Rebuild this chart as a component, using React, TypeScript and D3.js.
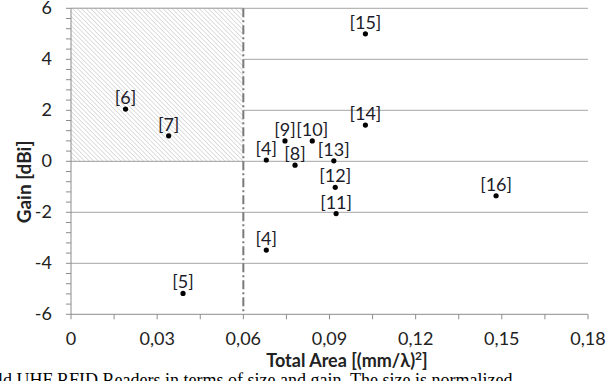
import React from 'react';
import { scaleLinear, range } from 'd3';

const refs = ['[6]', '[7]', '[4]', '[9]', '[10]', '[8]', '[13]', '[12]', '[11]', '[14]', '[15]', '[16]', '[4]', '[5]'];
const areas = [0.019, 0.034, 0.068, 0.0745, 0.084, 0.078, 0.0915, 0.092, 0.0923, 0.1025, 0.1025, 0.148, 0.068, 0.039];
const gains = [2.05, 1.0, 0.05, 0.8, 0.8, -0.15, 0.02, -1.02, -2.05, 1.42, 5.0, -1.35, -3.48, -5.18];

const xTicks = [0, 0.03, 0.06, 0.09, 0.12, 0.15, 0.18];
const yTicks = [-6, -4, -2, 0, 2, 4, 6];
const limitArea = 0.06;

const W = 608;
const H = 381;
const font = 'Lato, "Open Sans", sans-serif';

const App = () => {
  const x = scaleLinear().domain([0, 0.18]).range([71, 588]);
  const y = scaleLinear().domain([-6, 6]).range([314.3, 8.3]);

  const xMinor = range(0, 0.1801, 0.015);
  const yMinor = range(-6, 6.01, 0.4);

  return (
    <div style={{ position: 'fixed', left: 0, top: 0 }}>
      <svg width={W} height={H} style={{ display: 'block', background: '#fff' }}>
        <defs>
          <pattern id="hatch" patternUnits="userSpaceOnUse" width="3.2" height="3.2" patternTransform="rotate(-45)">
            <line x1="0" y1="0" x2="0" y2="3.2" stroke="#c4c4c4" strokeWidth="1.1" />
          </pattern>
        </defs>

        {/* grid */}
        {yTicks.filter(t => t !== -6).map(t => (
          <line key={'g' + t} x1={x(0)} x2={x(0.18)} y1={y(t)} y2={y(t)} stroke="#a6a6a6" strokeWidth={1} />
        ))}

        {/* hatched zone: small area, positive gain */}
        <rect x={x(0)} y={y(6)} width={x(limitArea) - x(0)} height={y(0) - y(6)} fill="#fff" />
        <rect x={x(0)} y={y(6)} width={x(limitArea) - x(0)} height={y(0) - y(6)} fill="url(#hatch)" />
        <line x1={x(0)} x2={x(limitArea)} y1={y(6)} y2={y(6)} stroke="#a6a6a6" />
        <line x1={x(0)} x2={x(limitArea)} y1={y(0)} y2={y(0)} stroke="#a6a6a6" />

        {/* axes */}
        <line x1={x(0)} x2={x(0)} y1={y(6)} y2={y(-6)} stroke="#8c8c8c" />
        <line x1={x(0)} x2={x(0.18)} y1={y(-6)} y2={y(-6)} stroke="#8c8c8c" />
        {yMinor.map(t => (
          <line key={'ym' + t} x1={x(0) - 5} x2={x(0)} y1={y(t)} y2={y(t)} stroke="#8c8c8c" />
        ))}
        {xMinor.map(t => (
          <line key={'xm' + t} x1={x(t)} x2={x(t)} y1={y(-6)} y2={y(-6) + 5} stroke="#8c8c8c" />
        ))}

        <line x1={x(limitArea)} x2={x(limitArea)} y1={y(6)} y2={y(-6)} stroke="#7a7a7a" strokeWidth={2} strokeDasharray="9 3 2 3" />

        {yTicks.map(t => (
          <text key={'yl' + t} x={52} y={y(t) + 6} textAnchor="end" fontFamily={font} fontSize={18} fill="#222">{t}</text>
        ))}
        {xTicks.map(t => (
          <text key={'xl' + t} x={x(t)} y={345} textAnchor="middle" fontFamily={font} fontSize={18} fill="#222">
            {t === 0 ? '0' : t.toFixed(2).replace('.', ',')}
          </text>
        ))}

        <text x={347} y={367} textAnchor="middle" fontFamily={font} fontSize={18} fontWeight="bold" fill="#222">
          Total Area [(mm/λ)<tspan fontSize={12} dy={-7}>2</tspan><tspan dy={7}>]</tspan>
        </text>
        <text transform="translate(31,182) rotate(-90)" textAnchor="middle" fontFamily={font} fontSize={19} fontWeight="bold" fill="#222">
          Gain [dBi]
        </text>

        {/* points */}
        {refs.map((r, i) => (
          <g key={'p' + i}>
            <circle cx={x(areas[i])} cy={y(gains[i])} r={2.6} fill="#000" />
            <text x={x(areas[i])} y={y(gains[i]) - 5} textAnchor="middle" fontFamily={font} fontSize={18} fill="#1c1c2a">{r}</text>
          </g>
        ))}

        <text x={-2} y={386} fontFamily='"Liberation Serif", serif' fontSize={18} fill="#000">
          ld UHF RFID Readers in terms of size and gain. The size is normalized
        </text>
      </svg>
    </div>
  );
};

export default App;
